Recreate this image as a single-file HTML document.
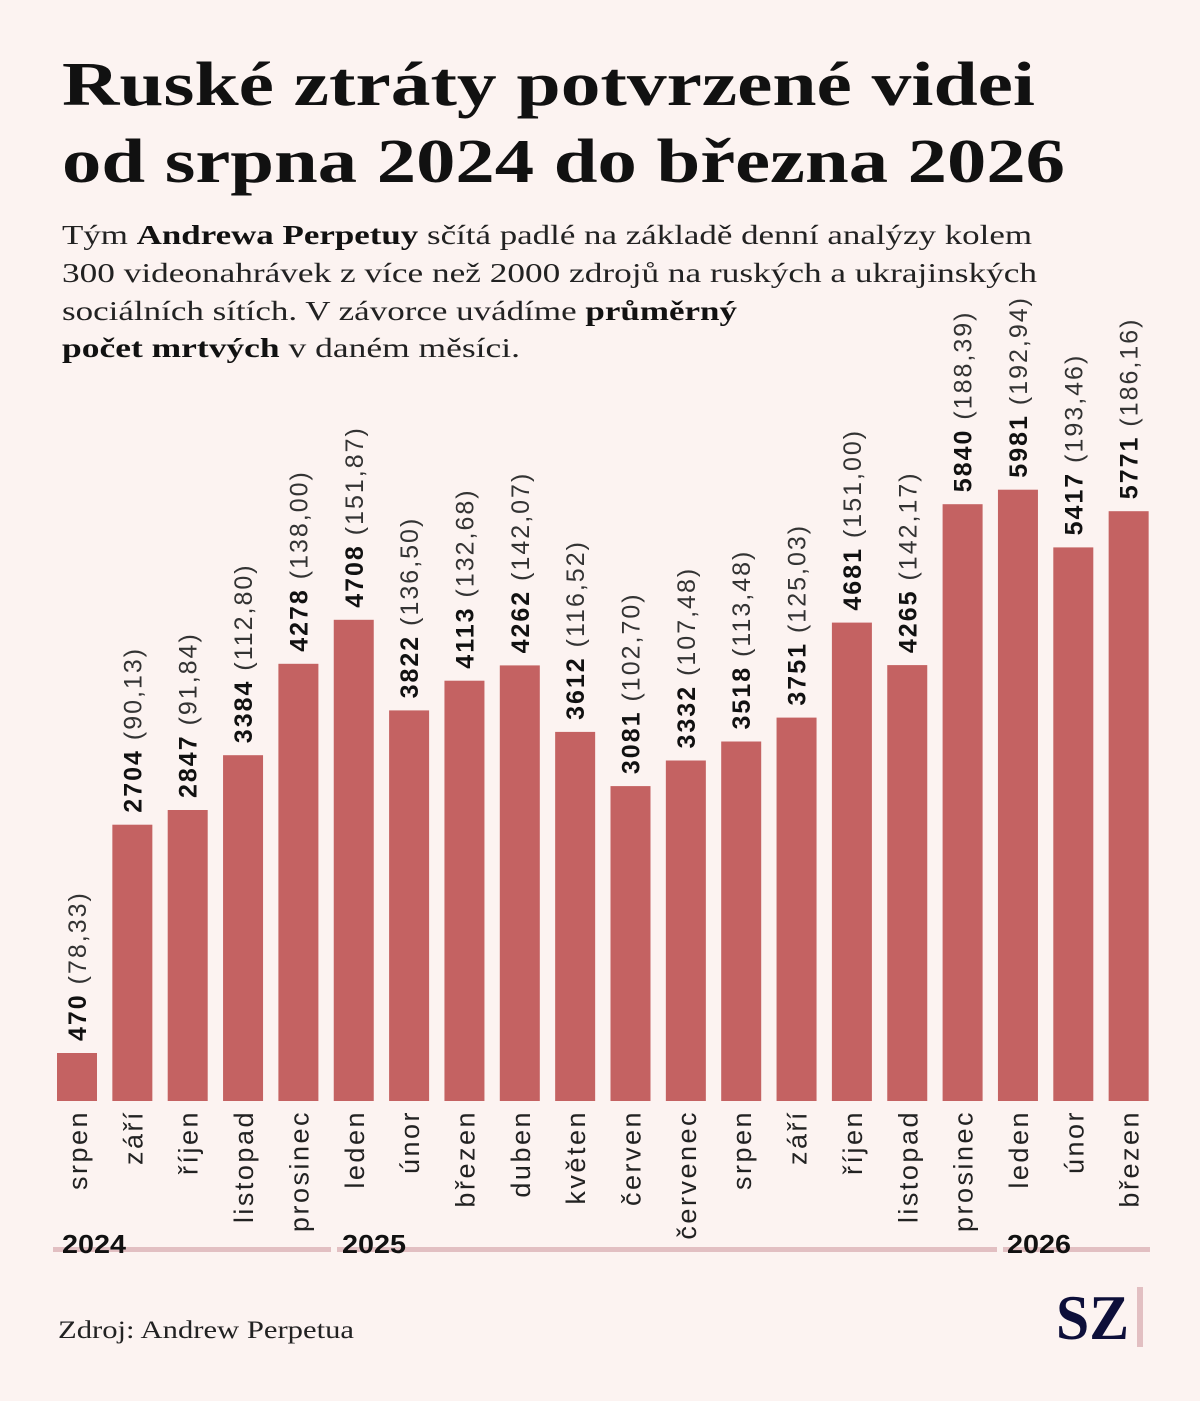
<!DOCTYPE html>
<html><head><meta charset="utf-8"><style>
html,body{margin:0;padding:0;background:#fcf3f1;}
svg{display:block;}
.v{font-family:"Liberation Sans",sans-serif;font-size:25px;letter-spacing:2px;fill:#111;}
.v tspan.b{font-weight:bold;}
.v tspan.n{fill:#333;}
.m{font-family:"Liberation Sans",sans-serif;font-size:27px;letter-spacing:2.5px;fill:#222;text-anchor:end;}
</style></head><body>
<svg xmlns="http://www.w3.org/2000/svg" width="1200" height="1401" viewBox="0 0 1200 1401">
<rect width="1200" height="1401" fill="#fcf3f1"/>
<g font-family="'Liberation Serif',serif" font-weight="bold" font-size="62" fill="#111">
<text x="62" y="105" textLength="973" lengthAdjust="spacingAndGlyphs">Ruské ztráty potvrzené videi</text>
<text x="62" y="182" textLength="1003" lengthAdjust="spacingAndGlyphs">od srpna 2024 do března 2026</text>
</g>
<g font-family="'Liberation Serif',serif" font-size="27" fill="#222">
<text x="62" y="244" textLength="970" lengthAdjust="spacingAndGlyphs">Tým <tspan font-weight="bold" fill="#111">Andrewa Perpetuy</tspan> sčítá padlé na základě denní analýzy kolem</text>
<text x="62" y="282" textLength="975" lengthAdjust="spacingAndGlyphs">300 videonahrávek z více než 2000 zdrojů na ruských a ukrajinských</text>
<text x="62" y="320" textLength="675" lengthAdjust="spacingAndGlyphs">sociálních sítích. V závorce uvádíme <tspan font-weight="bold" fill="#111">průměrný</tspan></text>
<text x="62" y="357" textLength="458" lengthAdjust="spacingAndGlyphs"><tspan font-weight="bold" fill="#111">počet mrtvých</tspan> v daném měsíci.</text>
</g>
<g fill="#c46262">
<rect x="57.0" y="1053.0" width="40" height="48.0"/>
<rect x="112.35" y="824.7" width="40" height="276.3"/>
<rect x="167.7" y="810.0" width="40" height="291.0"/>
<rect x="223.05" y="755.2" width="40" height="345.8"/>
<rect x="278.4" y="663.8" width="40" height="437.2"/>
<rect x="333.75" y="619.8" width="40" height="481.2"/>
<rect x="389.1" y="710.4" width="40" height="390.6"/>
<rect x="444.45" y="680.7" width="40" height="420.3"/>
<rect x="499.8" y="665.4" width="40" height="435.6"/>
<rect x="555.15" y="731.9" width="40" height="369.1"/>
<rect x="610.5" y="786.1" width="40" height="314.9"/>
<rect x="665.85" y="760.5" width="40" height="340.5"/>
<rect x="721.2" y="741.5" width="40" height="359.5"/>
<rect x="776.55" y="717.6" width="40" height="383.4"/>
<rect x="831.9" y="622.6" width="40" height="478.4"/>
<rect x="887.25" y="665.1" width="40" height="435.9"/>
<rect x="942.6" y="504.2" width="40" height="596.8"/>
<rect x="997.95" y="489.7" width="40" height="611.3"/>
<rect x="1053.3" y="547.4" width="40" height="553.6"/>
<rect x="1108.65" y="511.2" width="40" height="589.8"/>
</g>
<text class="v" transform="translate(86,1041) rotate(-90)"><tspan class="b">470</tspan><tspan class="n"> (78,33)</tspan></text>
<text class="v" transform="translate(141.35,812.7) rotate(-90)"><tspan class="b">2704</tspan><tspan class="n"> (90,13)</tspan></text>
<text class="v" transform="translate(196.7,798) rotate(-90)"><tspan class="b">2847</tspan><tspan class="n"> (91,84)</tspan></text>
<text class="v" transform="translate(252.05,743.2) rotate(-90)"><tspan class="b">3384</tspan><tspan class="n"> (112,80)</tspan></text>
<text class="v" transform="translate(307.4,651.8) rotate(-90)"><tspan class="b">4278</tspan><tspan class="n"> (138,00)</tspan></text>
<text class="v" transform="translate(362.75,607.8) rotate(-90)"><tspan class="b">4708</tspan><tspan class="n"> (151,87)</tspan></text>
<text class="v" transform="translate(418.1,698.4) rotate(-90)"><tspan class="b">3822</tspan><tspan class="n"> (136,50)</tspan></text>
<text class="v" transform="translate(473.45,668.7) rotate(-90)"><tspan class="b">4113</tspan><tspan class="n"> (132,68)</tspan></text>
<text class="v" transform="translate(528.8,653.4) rotate(-90)"><tspan class="b">4262</tspan><tspan class="n"> (142,07)</tspan></text>
<text class="v" transform="translate(584.15,719.9) rotate(-90)"><tspan class="b">3612</tspan><tspan class="n"> (116,52)</tspan></text>
<text class="v" transform="translate(639.5,774.1) rotate(-90)"><tspan class="b">3081</tspan><tspan class="n"> (102,70)</tspan></text>
<text class="v" transform="translate(694.85,748.5) rotate(-90)"><tspan class="b">3332</tspan><tspan class="n"> (107,48)</tspan></text>
<text class="v" transform="translate(750.2,729.5) rotate(-90)"><tspan class="b">3518</tspan><tspan class="n"> (113,48)</tspan></text>
<text class="v" transform="translate(805.55,705.6) rotate(-90)"><tspan class="b">3751</tspan><tspan class="n"> (125,03)</tspan></text>
<text class="v" transform="translate(860.9,610.6) rotate(-90)"><tspan class="b">4681</tspan><tspan class="n"> (151,00)</tspan></text>
<text class="v" transform="translate(916.25,653.1) rotate(-90)"><tspan class="b">4265</tspan><tspan class="n"> (142,17)</tspan></text>
<text class="v" transform="translate(971.6,492.2) rotate(-90)"><tspan class="b">5840</tspan><tspan class="n"> (188,39)</tspan></text>
<text class="v" transform="translate(1026.95,477.7) rotate(-90)"><tspan class="b">5981</tspan><tspan class="n"> (192,94)</tspan></text>
<text class="v" transform="translate(1082.3,535.4) rotate(-90)"><tspan class="b">5417</tspan><tspan class="n"> (193,46)</tspan></text>
<text class="v" transform="translate(1137.65,499.2) rotate(-90)"><tspan class="b">5771</tspan><tspan class="n"> (186,16)</tspan></text>
<text class="m" transform="translate(87,1110) rotate(-90)">srpen</text>
<text class="m" transform="translate(142.35,1110) rotate(-90)">září</text>
<text class="m" transform="translate(197.7,1110) rotate(-90)">říjen</text>
<text class="m" transform="translate(253.05,1110) rotate(-90)">listopad</text>
<text class="m" transform="translate(308.4,1110) rotate(-90)">prosinec</text>
<text class="m" transform="translate(363.75,1110) rotate(-90)">leden</text>
<text class="m" transform="translate(419.1,1110) rotate(-90)">únor</text>
<text class="m" transform="translate(474.45,1110) rotate(-90)">březen</text>
<text class="m" transform="translate(529.8,1110) rotate(-90)">duben</text>
<text class="m" transform="translate(585.15,1110) rotate(-90)">květen</text>
<text class="m" transform="translate(640.5,1110) rotate(-90)">červen</text>
<text class="m" transform="translate(695.85,1110) rotate(-90)">červenec</text>
<text class="m" transform="translate(751.2,1110) rotate(-90)">srpen</text>
<text class="m" transform="translate(806.55,1110) rotate(-90)">září</text>
<text class="m" transform="translate(861.9,1110) rotate(-90)">říjen</text>
<text class="m" transform="translate(917.25,1110) rotate(-90)">listopad</text>
<text class="m" transform="translate(972.6,1110) rotate(-90)">prosinec</text>
<text class="m" transform="translate(1027.95,1110) rotate(-90)">leden</text>
<text class="m" transform="translate(1083.3,1110) rotate(-90)">únor</text>
<text class="m" transform="translate(1138.65,1110) rotate(-90)">březen</text>
<g font-family="'Liberation Sans',sans-serif" font-weight="bold" font-size="26" fill="#111">
<rect x="53" y="1247" width="278" height="5" fill="#e2bfc2"/>
<rect x="337" y="1247" width="660" height="5" fill="#e2bfc2"/>
<rect x="1003" y="1247" width="147" height="5" fill="#e2bfc2"/>
<text x="62" y="1253" textLength="64" lengthAdjust="spacingAndGlyphs">2024</text>
<text x="342" y="1253" textLength="64" lengthAdjust="spacingAndGlyphs">2025</text>
<text x="1007" y="1253" textLength="64" lengthAdjust="spacingAndGlyphs">2026</text>
</g>
<text x="58" y="1338" font-family="'Liberation Serif',serif" font-size="25" fill="#222" textLength="296" lengthAdjust="spacingAndGlyphs">Zdroj: Andrew Perpetua</text>
<text x="1056" y="1339" font-family="'Liberation Serif',serif" font-weight="bold" font-size="64" fill="#0d0f3a" textLength="73" lengthAdjust="spacingAndGlyphs">SZ</text>
<rect x="1137" y="1287" width="6" height="60" fill="#e2bfc2"/>
</svg>
</body></html>
